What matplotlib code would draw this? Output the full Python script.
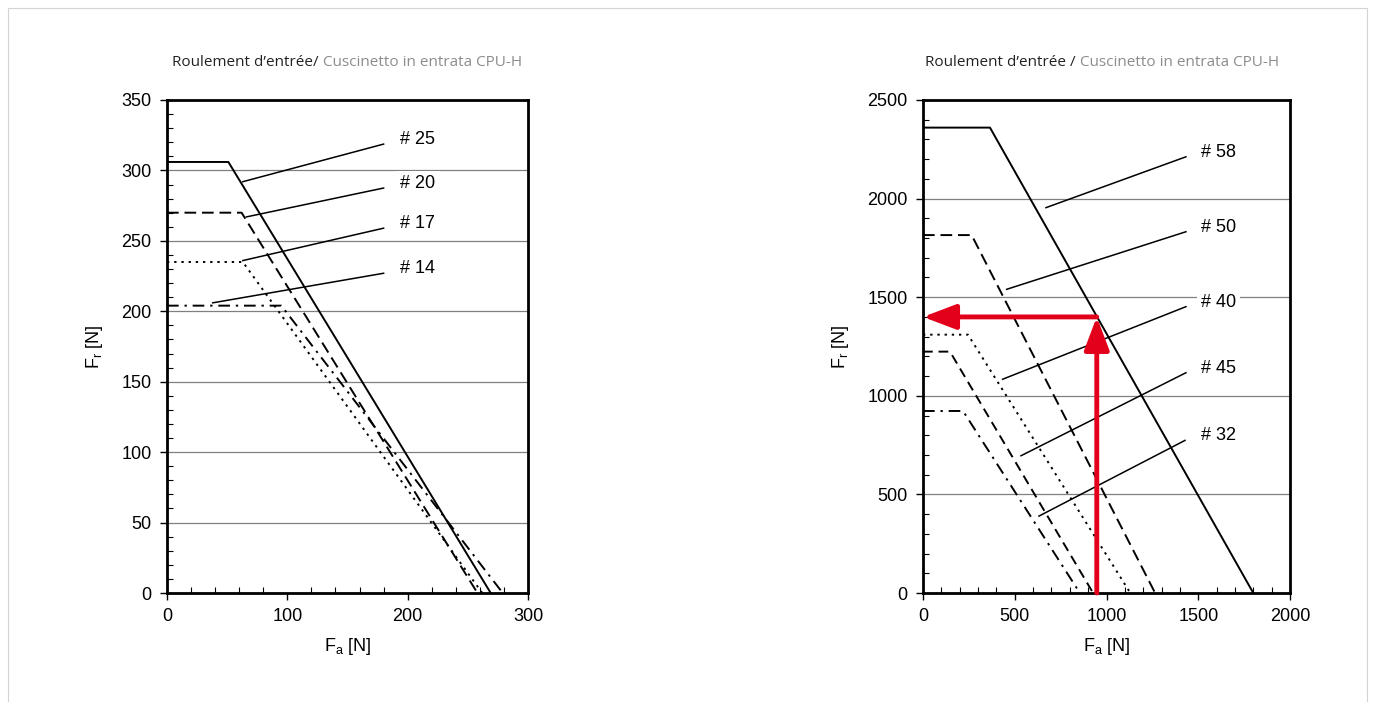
import matplotlib
matplotlib.use('Agg')
import matplotlib.pyplot as plt
from matplotlib.patches import Rectangle
from matplotlib.ticker import MultipleLocator

plt.rcParams['font.family'] = ['Liberation Sans', 'DejaVu Sans']
plt.rcParams['mathtext.fontset'] = 'custom'
plt.rcParams['mathtext.rm'] = 'Liberation Sans'

# lewy wykres - roulement d'entree (male)
left_labels = ['# 25', '# 20', '# 17', '# 14']
left_fa = [[0, 51, 269], [0, 62, 258], [0, 63, 262], [0, 95, 279]]
left_fr = [[306, 306, 0], [270, 270, 0], [235, 235, 0], [204, 204, 0]]
left_lead_fa = [[63, 180], [66, 180], [63, 180], [38, 180]]
left_lead_fr = [[292, 318.7], [267, 287.5], [236, 259], [206, 227]]

# prawy wykres (duze)
right_labels = ['# 58', '# 50', '# 40', '# 45', '# 32']
right_fa = [[0, 365, 1800], [0, 265, 1265], [0, 245, 1130], [0, 147, 927], [0, 218, 855]]
right_fr = [[2360, 2360, 0], [1815, 1815, 0], [1310, 1310, 0], [1224, 1224, 0], [923, 923, 0]]
right_lead_fa = [[670, 1433], [456, 1433], [434, 1433], [534, 1433], [632, 1428]]
right_lead_fr = [[1954, 2212], [1540, 1832], [1084, 1452], [696, 1117], [390, 774]]

# punkt odczytu (czerwone strzalki)
point_fa = 947
point_fr = 1400

left_styles = ['-', (0, (6, 3)), (0, (1.2, 2.5)), (0, (6, 3, 1.2, 3))]
right_styles = ['-', (0, (6, 3)), (0, (1.2, 2.5)), (0, (5, 3)), (0, (6, 3, 1.2, 3))]

fig = plt.figure(figsize=(13.76, 7.02), dpi=100)

# ramka wokol calego obrazka
fig.patches.append(Rectangle((8/1376, -0.01), (1367-8)/1376, 1-8/702+0.01,
                             transform=fig.transFigure, fill=False,
                             edgecolor='#d4d4d4', lw=0.8))


def panel(rect, fa, fr, styles, lead_fa, lead_fr, labels, label_x, xlim, ylim, xmaj, xmin, ymaj, ymin):
    ax = fig.add_axes(rect)
    for x, y, ls in zip(fa, fr, styles):
        ax.plot(x, y, color='black', lw=1.4, linestyle=ls, zorder=3)
    for x, y, lab in zip(lead_fa, lead_fr, labels):
        ax.plot(x, y, color='black', lw=1.1, zorder=3)
        ax.text(label_x, y[1], lab, fontsize=13, va='baseline', ha='left', zorder=4,
                bbox=dict(facecolor='white', edgecolor='none', pad=3))
    ax.set_xlim(xlim)
    ax.set_ylim(ylim)
    ax.xaxis.set_major_locator(MultipleLocator(xmaj))
    ax.xaxis.set_minor_locator(MultipleLocator(xmin))
    ax.yaxis.set_major_locator(MultipleLocator(ymaj))
    ax.yaxis.set_minor_locator(MultipleLocator(ymin))
    ax.tick_params(which='major', direction='out', length=5, width=1, labelsize=13, pad=6)
    ax.tick_params(which='minor', direction='in', length=4, width=0.8)
    ax.yaxis.grid(True, which='major', color='#808080', lw=0.9)
    ax.set_axisbelow(True)
    for s in ax.spines.values():
        s.set_linewidth(2)
    ax.set_xlabel(r'F$_\mathregular{a}$ [N]', fontsize=13, labelpad=8)
    ax.set_ylabel(r'F$_\mathregular{r}$ [N]', fontsize=13, labelpad=12)
    return ax


axl = panel([167/1376, 1-593/702, 361/1376, 493/702], left_fa, left_fr, left_styles,
            left_lead_fa, left_lead_fr, left_labels, 194, (0, 300), (0, 350), 100, 20, 50, 10)
axr = panel([923/1376, 1-593/702, 367/1376, 493/702], right_fa, right_fr, right_styles,
            right_lead_fa, right_lead_fr, right_labels, 1515, (0, 2000), (0, 2500), 500, 100, 500, 100)

red = '#e2001a'
arrow = dict(arrowstyle='-|>,head_length=1.0,head_width=0.38', color=red, lw=3.5,
             shrinkA=0, shrinkB=0, mutation_scale=20)
axr.annotate('', xy=(point_fa, point_fr), xytext=(point_fa, 0), arrowprops=arrow, zorder=5)
axr.annotate('', xy=(0, point_fr), xytext=(point_fa, point_fr), arrowprops=arrow, zorder=5)

# tytuly
for x0, sep in [(172, '/'), (925, ' /')]:
    t1 = fig.text(x0/1376, 1-66/702, "Roulement d\u2019entrée" + sep, fontsize=11,
                  family='Open Sans', color='#222222', va='baseline')
    fig.canvas.draw()
    plt.annotate(' Cuscinetto in entrata CPU-H', xy=(1, 0), xycoords=t1, va='bottom',
                 fontsize=11, family='Open Sans', color='#8c8c8c', annotation_clip=False)

fig.savefig('out.png', dpi=100)
